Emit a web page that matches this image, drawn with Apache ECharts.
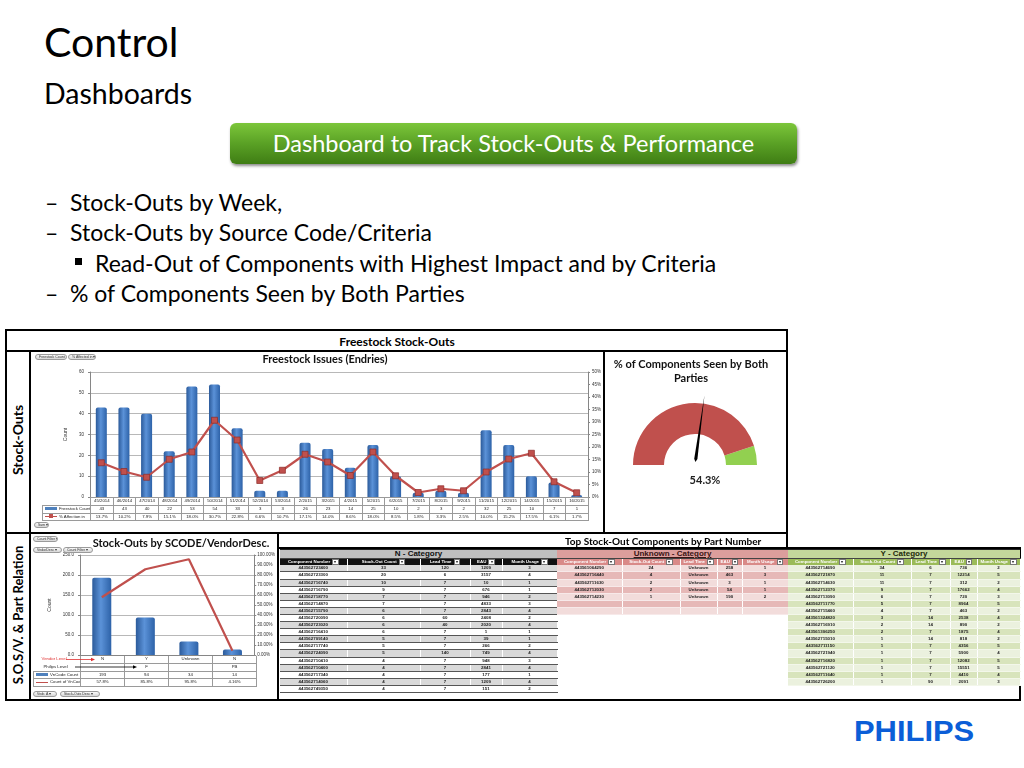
<!DOCTYPE html>
<html><head><meta charset="utf-8">
<script src="https://cdn.jsdelivr.net/npm/echarts@6/dist/echarts.min.js"></script>
<style>
html,body{margin:0;padding:0;background:#fff;}
#slide{position:relative;width:1024px;height:768px;overflow:hidden;font-family:Lato,'Open Sans',sans-serif;color:#000;background:#fff;}
.abs{position:absolute;white-space:nowrap;}
.ln{position:absolute;background:#000;}
.bl{position:absolute;white-space:nowrap;font-size:23px;line-height:23px;}
.pill{position:absolute;height:6px;border:0.5px solid #9a9a9a;border-radius:3px;background:linear-gradient(#fafafa,#d6d6d6);font:3.5px/5.5px 'Liberation Sans',sans-serif;color:#333;padding-left:3px;box-sizing:border-box;white-space:nowrap;overflow:hidden;}
table{border-collapse:collapse;table-layout:fixed;}
.dt td{border:0.6px solid #9a9a9a;font:4.3px/6.8px 'Liberation Sans',sans-serif;text-align:center;padding:0;overflow:hidden;white-space:nowrap;color:#222;height:6.8px;}
.ct td{font:bold 4.4px/6.1px 'Liberation Sans',sans-serif;text-align:center;padding:0;overflow:hidden;white-space:nowrap;height:6.1px;}
.ct tr.ttl td{font:bold 8px/7.5px 'Liberation Sans',sans-serif;height:7.5px;}
.ct tr.hd td{height:6.4px;line-height:6.4px;}
.dd{display:inline-block;width:4.5px;height:4.5px;background:#fff;border:0.5px solid #777;vertical-align:middle;margin-left:2px;font-size:4px;line-height:4.5px;color:#333;}
</style></head>
<body>
<div id="slide">
  <div class="abs" style="left:44px;top:21px;font-size:41px;line-height:41px;">Control</div>
  <div class="abs" style="left:44px;top:79px;font-size:28.5px;line-height:28.5px;">Dashboards</div>
  <div class="abs" style="left:230px;top:123px;width:567px;height:41px;border-radius:6px;background:linear-gradient(#7cc63a,#5aa125 50%,#3f7d14);box-shadow:1px 2px 3px rgba(0,0,0,0.45);color:#fff;font-size:23.5px;line-height:41px;text-align:center;">Dashboard to Track Stock-Outs &amp; Performance</div>
  <div class="bl" style="left:45px;top:191px;">–</div>
  <div class="bl" style="left:70px;top:191px;">Stock-Outs by Week,</div>
  <div class="bl" style="left:45px;top:221px;">–</div>
  <div class="bl" style="left:70px;top:221px;">Stock-Outs by Source Code/Criteria</div>
  <div class="abs" style="left:75px;top:258px;width:7px;height:7px;background:#000;"></div>
  <div class="bl" style="left:95px;top:252px;">Read-Out of Components with Highest Impact and by Criteria</div>
  <div class="bl" style="left:45px;top:282px;">–</div>
  <div class="bl" style="left:70px;top:282px;">% of Components Seen by Both Parties</div>

  <!-- frame -->
  <div class="ln" style="left:5px;top:329px;width:783px;height:2px;"></div>
  <div class="ln" style="left:5px;top:350px;width:783px;height:2px;"></div>
  <div class="ln" style="left:5px;top:532px;width:783px;height:2px;"></div>
  <div class="ln" style="left:5px;top:329px;width:2px;height:372px;"></div>
  <div class="ln" style="left:29px;top:351px;width:2px;height:350px;"></div>
  <div class="ln" style="left:603px;top:351px;width:2px;height:182px;"></div>
  <div class="ln" style="left:786px;top:329px;width:2px;height:220px;"></div>
  <div class="ln" style="left:277px;top:533px;width:2px;height:168px;"></div>
  <div class="ln" style="left:278px;top:547px;width:743px;height:2px;"></div>
  <div class="ln" style="left:1019px;top:547px;width:2px;height:154px;"></div>
  <div class="ln" style="left:5px;top:699px;width:1016px;height:2px;"></div>

  <div class="abs" style="left:397px;top:335px;transform:translateX(-50%);font:bold 12px/14px Lato;">Freestock Stock-Outs</div>
  <div class="abs" style="left:18px;top:440px;transform:translate(-50%,-50%) rotate(-90deg);font:bold 14px/16px Lato;">Stock-Outs</div>
  <div class="abs" style="left:18px;top:615px;transform:translate(-50%,-50%) rotate(-90deg);font:bold 13px/16px Lato;">S.O.S/V. &amp; Part Relation</div>

  <div id="c1" class="abs" style="left:30px;top:352px;width:574px;height:180px;"></div>
  <div id="c2" class="abs" style="left:605px;top:352px;width:181px;height:180px;"></div>
  <div id="c3" class="abs" style="left:31px;top:534px;width:247px;height:165px;"></div>

  <div id="t1" class="abs" style="left:42px;top:497px;"></div>
  <div id="t3" class="abs" style="left:33px;top:656px;"></div>

  <div class="pill" style="left:35px;top:354px;width:32px;">Freestock Count ▾</div>
  <div class="pill" style="left:68px;top:354px;width:28px;">% Affected in ▾</div>
  <div class="pill" style="left:34px;top:522px;width:15px;">Sum ▾</div>
  <div class="pill" style="left:33px;top:536px;width:25px;">Count Filter ▾</div>
  <div class="pill" style="left:33px;top:547px;width:29px;">VndorDesc ▾</div>
  <div class="pill" style="left:63px;top:547px;width:30px;">Count Filter ▾</div>
  <div class="pill" style="left:33px;top:691px;width:24px;">Vndr. A ▾</div>
  <div class="pill" style="left:60px;top:691px;width:40px;">Stock-Outs Desc ▾</div>

  <div class="abs" style="left:565px;top:535px;font:bold 10px/12px Lato;">Top Stock-Out Components by Part Number</div>
  <div id="tn" class="abs" style="left:280px;top:549px;"></div>
  <div id="tu" class="abs" style="left:557px;top:549px;"></div>
  <div id="ty" class="abs" style="left:788px;top:549px;"></div>

  <div class="abs" style="left:854px;top:716px;font:bold 30px/30px 'Liberation Sans',sans-serif;color:#0b5ed7;transform:scaleX(1.03);transform-origin:left;">PHILIPS</div>
</div>
<script>
// ---------- data ----------
const weeks = ['45/2014','46/2014','47/2014','48/2014','49/2014','50/2014','51/2014','52/2014','53/2014','2/2015','3/2015','4/2015','5/2015','6/2015','7/2015','8/2015','9/2015','11/2015','12/2015','14/2015','15/2015','16/2015'];
const freestockCount = [43,43,40,22,53,54,33,3,3,26,23,14,25,10,2,3,2,32,25,10,7,1];
const affectedPct = [13.7,10.2,7.9,15.1,18.0,30.7,22.8,6.6,10.7,17.1,14.0,8.6,18.0,8.5,1.8,3.3,2.5,10.0,15.2,17.5,6.1,1.7];
const countTicks = {min:0, max:60, interval:10};
const pctTicks = {min:0, max:50, interval:5};

const gaugeValue = 54.3;
const gaugeBands = [[0.9,'#c0504d'],[1,'#92d050']];

const vendorLevel = ['N','Y','Unknown','N'];
const philipsLevel = ['','F','','PB'];
const scodeCount = [193,94,34,14];
const scodePct = [57.8,85.8,95.8,4.16];

const tableHeaders = ['Component Number','Stock-Out Count','Lead Time','EAU','Month Usage'];
const nCategory = [
 ['443562723400',33,120,1209,3],['443562723300',20,6,3157,4],['443562716740',10,7,10,1],['443562716790',9,7,676,1],
 ['443562718770',7,7,946,2],['443562714870',7,7,4833,3],['443562715790',6,7,2843,4],['443562720090',6,60,2408,2],
 ['443562723020',6,40,2020,4],['443562716410',6,7,1,1],['443562709140',5,7,39,1],['443562717740',5,7,266,2],
 ['443562724090',5,140,749,4],['443562710410',4,7,948,3],['443562710400',4,7,2841,4],['443562717340',4,7,177,1],
 ['443562714060',4,7,1209,4],['443562749350',4,7,151,2]];
const unknownCategory = [
 ['443561064290',24,'Unknown',258,1],['443562716440',4,'Unknown',463,3],['443562711630',2,'Unknown',3,1],
 ['443562712030',2,'Unknown',54,1],['443562714230',1,'Unknown',190,2],['','','','',''],['','','','','']];
const yCategory = [
 ['443562714690',34,6,736,2],['443562721870',11,7,12214,5],['443562714630',11,7,312,2],['443562712370',9,7,17662,4],
 ['443562713090',6,7,720,3],['443562711770',5,7,8964,5],['443562715460',4,7,463,2],['443561324820',3,14,2538,4],
 ['443562716910',2,14,890,2],['443561306250',2,7,1875,4],['443562715010',1,14,818,2],['443562711150',1,7,4356,5],
 ['443562721940',1,7,5900,4],['443562716820',1,7,12082,5],['443562721120',1,7,15551,5],['443562711640',1,7,4410,4],
 ['443562726200',1,90,2091,3]];

// ---------- freestock chart ----------
function barGradient(){ return new echarts.graphic.LinearGradient(0,0,1,0,[{offset:0,color:'#2b5a9a'},{offset:0.45,color:'#5b92d8'},{offset:1,color:'#2d62a8'}]); }
const c1 = echarts.init(document.getElementById('c1'));
c1.setOption({
  animation:false,
  graphic:[{type:'text', x:295, y:2, style:{text:'Freestock Issues (Endries)', font:'bold 11px Lato', fill:'#111', align:'center', verticalAlign:'top'}}],
  grid:{left:60, right:16, top:20, bottom:35},
  xAxis:{type:'category', data:weeks, axisLabel:{show:false}, axisTick:{show:false}, axisLine:{lineStyle:{color:'#868686'}}},
  yAxis:[
    {type:'value', min:countTicks.min, max:countTicks.max, interval:countTicks.interval, name:'Count', nameLocation:'middle', nameGap:16, nameTextStyle:{fontSize:5, color:'#333'},
     axisLabel:{fontSize:4.5, color:'#333', margin:6}, axisLine:{show:true, lineStyle:{color:'#868686'}}, axisTick:{show:true, length:2, lineStyle:{color:'#868686'}},
     splitLine:{lineStyle:{color:'#a6a6a6', width:0.8}}},
    {type:'value', min:pctTicks.min, max:pctTicks.max, interval:pctTicks.interval, axisLabel:{fontSize:4.5, color:'#333', margin:4, formatter:'{value}%'},
     axisLine:{show:true, lineStyle:{color:'#868686'}}, axisTick:{show:true, length:2, lineStyle:{color:'#868686'}}, splitLine:{show:false}}
  ],
  series:[
    {type:'bar', data:freestockCount, barWidth:11, itemStyle:{color:barGradient(), borderRadius:[2,2,0,0]}},
    {type:'line', yAxisIndex:1, data:affectedPct, symbol:'rect', symbolSize:6, lineStyle:{color:'#c0504d', width:2.2},
     itemStyle:{color:'#c0504d', borderColor:'#8c2b28', borderWidth:0.7}}
  ]
});

// data table under freestock
(function(){
  const legendW = 48, colW = 498/weeks.length;
  let h = '<table class="dt" style="width:'+(legendW+498)+'px"><colgroup><col style="width:'+legendW+'px">';
  weeks.forEach(()=>{h+='<col style="width:'+colW+'px">';});
  h += '</colgroup><tr><td style="border:none"></td>' + weeks.map(w=>'<td>'+w+'</td>').join('') + '</tr>';
  h += '<tr><td style="text-align:left"><span style="display:inline-block;width:12px;height:3px;background:#4f81bd;vertical-align:middle;margin:0 2px"></span>Freestock Count</td>' + freestockCount.map(v=>'<td>'+v+'</td>').join('') + '</tr>';
  h += '<tr><td style="text-align:left"><span style="display:inline-block;width:12px;height:1.5px;background:#c0504d;vertical-align:middle;margin:0 2px;position:relative"><span style="position:absolute;left:4px;top:-1.5px;width:4px;height:4px;background:#c0504d"></span></span>% Affection in</td>' + affectedPct.map(v=>'<td>'+v.toFixed(1)+'%</td>').join('') + '</tr></table>';
  document.getElementById('t1').innerHTML = h;
})();

// ---------- gauge ----------
const c2 = echarts.init(document.getElementById('c2'));
c2.setOption({
  animation:false,
  graphic:[{type:'text', x:86, y:5, style:{text:'% of Components Seen by Both\nParties', font:'bold 11px Lato', fill:'#111', align:'center', verticalAlign:'top', lineHeight:14}}],
  series:[{
    type:'gauge', startAngle:180, endAngle:0, min:0, max:100, radius:62, center:[90,113],
    axisLine:{lineStyle:{width:31, color:gaugeBands}},
    splitLine:{show:false}, axisTick:{show:false}, axisLabel:{show:false},
    pointer:{length:'104%', width:1.6, offsetCenter:[0,'-10%'], itemStyle:{color:'#000'}},
    anchor:{show:false}, title:{show:false},
    detail:{formatter:'{value}%', offsetCenter:[10,15], fontSize:11, fontWeight:'bold', fontFamily:'Lato', color:'#222'},
    data:[{value:gaugeValue}]
  }]
});

// ---------- SCODE chart ----------
const c3 = echarts.init(document.getElementById('c3'));
c3.setOption({
  animation:false,
  graphic:[{type:'text', x:150, y:4, style:{text:'Stock-Outs by SCODE/VendorDesc.', font:'bold 11px Lato', fill:'#111', align:'center', verticalAlign:'top'}}],
  grid:{left:49, right:22, top:21, bottom:44},
  xAxis:{type:'category', data:vendorLevel, axisLabel:{show:false}, axisTick:{show:false}, axisLine:{lineStyle:{color:'#868686'}}},
  yAxis:[
    {type:'value', min:0, max:250, interval:50, name:'Count', nameLocation:'middle', nameGap:26, nameTextStyle:{fontSize:5, color:'#333'},
     axisLabel:{fontSize:4.5, color:'#333', margin:6, formatter:v=>v.toFixed(1)}, axisLine:{show:true, lineStyle:{color:'#868686'}}, axisTick:{show:true,length:2},
     splitLine:{lineStyle:{color:'#a6a6a6', width:0.8}}},
    {type:'value', min:0, max:100, interval:10, axisLabel:{fontSize:4.5, color:'#333', margin:3, formatter:v=>v.toFixed(2)+'%'},
     axisLine:{show:true, lineStyle:{color:'#868686'}}, axisTick:{show:true,length:2}, splitLine:{show:false}}
  ],
  series:[
    {type:'bar', data:scodeCount, barWidth:19, itemStyle:{color:barGradient(), borderRadius:[2,2,0,0]}},
    {type:'line', yAxisIndex:1, data:scodePct, symbol:'none', lineStyle:{color:'#c0504d', width:2.2}}
  ]
});

// SCODE table
(function(){
  const legendW = 47, colW = 44;
  let h = '<table class="dt" style="width:'+(legendW+colW*4)+'px"><colgroup><col style="width:'+legendW+'px">';
  vendorLevel.forEach(()=>{h+='<col style="width:'+colW+'px">';});
  h += '</colgroup>';
  h += '<tr><td style="border:none;color:#e03030;text-align:left;padding-left:8px">Vendor Level</td>' + vendorLevel.map(v=>'<td style="border-top:none">'+v+'</td>').join('') + '</tr>';
  h += '<tr><td style="border:none;text-align:left;padding-left:10px">Philips Level</td>' + philipsLevel.map(v=>'<td>'+v+'</td>').join('') + '</tr>';
  h += '<tr><td style="text-align:left"><span style="display:inline-block;width:12px;height:3px;background:#4f81bd;vertical-align:middle;margin:0 2px"></span>VnCode Count</td>' + scodeCount.map(v=>'<td>'+v+'</td>').join('') + '</tr>';
  h += '<tr><td style="text-align:left"><span style="display:inline-block;width:12px;height:1.5px;background:#c0504d;vertical-align:middle;margin:0 2px"></span>Count of VnCode</td>' + scodePct.map(v=>'<td>'+(v<10?v.toFixed(2):v.toFixed(1))+'%</td>').join('') + '</tr></table>';
  h += '<svg style="position:absolute;left:0;top:0;overflow:visible" width="130" height="20">'
     + '<line x1="33" y1="3.5" x2="58" y2="3.5" stroke="#e03030" stroke-width="0.8"/><path d="M58 1.8 L62 3.5 L58 5.2 Z" fill="#e03030"/>'
     + '<line x1="42" y1="11" x2="100" y2="11" stroke="#000" stroke-width="0.8"/><path d="M100 9.3 L104 11 L100 12.7 Z" fill="#000"/></svg>';
  document.getElementById('t3').innerHTML = h;
})();

// ---------- category tables ----------
function catTable(id, title, rows, widths, c){
  const total = widths.reduce((a,b)=>a+b,0);
  let h = '<table class="ct" style="width:'+total+'px"><colgroup>' + widths.map(w=>'<col style="width:'+w+'px">').join('') + '</colgroup>';
  h += '<tr class="ttl"><td colspan="5" style="background:'+c.title+';color:'+c.titleColor+';border-top:1.5px solid #222;border-bottom:1px solid #444;'+(c.u?'text-decoration:underline;':'')+'">'+title+'</td></tr>';
  h += '<tr class="hd">' + tableHeaders.map(t=>'<td style="background:'+c.head+';color:#fff;border-right:0.6px solid '+c.sep+';">'+t+'<span class="dd">▾</span></td>').join('') + '</tr>';
  rows.forEach((r,i)=>{
    h += '<tr>' + r.map(v=>'<td style="background:'+c.rows[i%2]+';color:#222;border-right:0.6px solid '+c.sep+';border-bottom:0.6px solid '+c.rowLine+'">'+v+'</td>').join('') + '</tr>';
  });
  h += '</table>';
  document.getElementById(id).innerHTML = h;
}
catTable('tn','N - Category', nCategory, [67,73,50,32,55], {title:'#bfbfbf', titleColor:'#111', head:'#111', sep:'#ffffff', rows:['#d9d9d9','#ffffff'], rowLine:'#555'});
catTable('tu','Unknown - Category', unknownCategory, [65,58,37,25,46], {title:'#dc9e9c', titleColor:'#3a1414', head:'#d98a88', sep:'#ffffff', rows:['#f2dcdb','#e6b8b7'], rowLine:'#f7e9e9', u:true});
catTable('ty','Y - Category', yCategory, [65,58,39,27,43], {title:'#c4d79b', titleColor:'#1e2a0a', head:'#9bbb59', sep:'#ffffff', rows:['#ebf1de','#d8e4bc'], rowLine:'#f3f7ea'});
</script>
</body></html>
